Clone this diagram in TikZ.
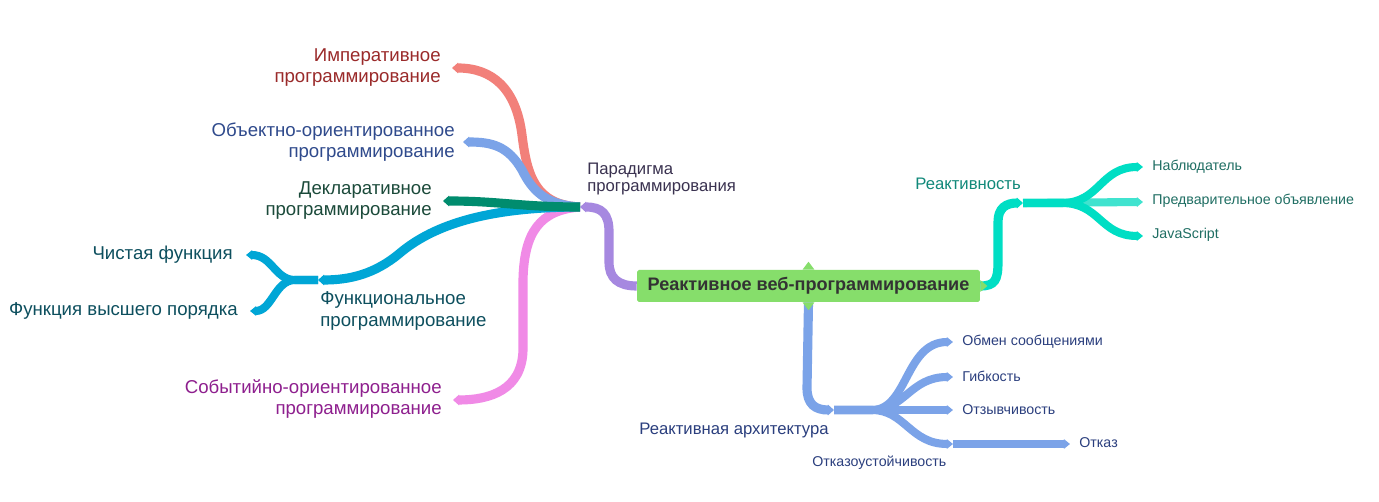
\documentclass[tikz,border=0pt]{standalone}
\usepackage{fontspec}
\setmainfont{Liberation Sans}
\usepackage{xcolor}
\usetikzlibrary{arrows.meta}

\definecolor{cImp}{HTML}{F2807A}
\definecolor{cOop}{HTML}{7BA3E8}
\definecolor{cDecl}{HTML}{008C6E}
\definecolor{cFun}{HTML}{00A6D6}
\definecolor{cEvt}{HTML}{F08AE6}
\definecolor{cPar}{HTML}{A688E0}
\definecolor{cRe}{HTML}{00DEC4}
\definecolor{cReL}{HTML}{40E3CF}
\definecolor{cArch}{HTML}{7BA3E8}
\definecolor{cRoot}{HTML}{86DE6B}
\definecolor{tImp}{HTML}{9A2A2A}
\definecolor{tOop}{HTML}{2F4A8C}
\definecolor{tDecl}{HTML}{1B4A3A}
\definecolor{tFun}{HTML}{0D4F5E}
\definecolor{tEvt}{HTML}{8E1F8E}
\definecolor{tPar}{HTML}{3A3250}
\definecolor{tRe}{HTML}{11897A}
\definecolor{tReL}{HTML}{1F6E63}
\definecolor{tArch}{HTML}{2B3F7E}

\tikzset{
    branch/.style={line width=5.2pt, -{Triangle[length=3.5pt,width=6pt]}},
    twig/.style={line width=4.6pt, -{Triangle[length=3.5pt,width=5.4pt]}},
    big/.style={font=\fontsize{10.6}{12}\selectfont, inner sep=0pt},
    mid/.style={font=\fontsize{9.5}{10.2}\selectfont, inner sep=0pt},
    small/.style={font=\fontsize{8.1}{9.5}\selectfont, inner sep=0pt},
    root/.style={fill=cRoot, rounded corners=1pt, minimum width=6.86cm, minimum height=0.64cm,
        inner sep=0pt, font=\fontsize{10.3}{11}\selectfont\bfseries, text=black!80}
}

\begin{document}
\begin{tikzpicture}[x=0.02cm, y=-0.02cm]
        \fill[white] (0,0) rectangle (1379,502);
        \useasboundingbox (0,0) rectangle (1379,502);

        \node[root] (root) at (808.5,286) {Реактивное веб-программирование};

        %=== Points ===
        \coordinate (hubP) at (580,207);
        \coordinate (hubF) at (318,280);
        \coordinate (hubR) at (1023,203);
        \coordinate (hubA) at (834,410);
        \coordinate (eImp) at (452,68);
        \coordinate (eOop) at (463,142);
        \coordinate (eDecl) at (443,201);
        \coordinate (eEvt) at (453,400);
        \coordinate (ePure) at (246,255);
        \coordinate (eHof) at (250,311);
        \coordinate (eObs) at (1143,167);
        \coordinate (eFwd) at (1143,202);
        \coordinate (eJs) at (1143,236);
        \coordinate (eMsg) at (953,342);
        \coordinate (eFlex) at (953,377);
        \coordinate (eResp) at (953,410);
        \coordinate (eFault) at (953,444);
        \coordinate (eFail) at (1070,444);

        %=== Парадигма ===
        \draw[branch, cPar] (root.west) .. controls (618,286) and (609,278) .. (609,262)
            -- (609,232) .. controls (609,214) and (602,207) .. (hubP);
        \draw[branch, cEvt] (hubP) .. controls (540,210) and (524,232) .. (523,280)
            -- (523,350) .. controls (522,390) and (490,400) .. (eEvt);
        \draw[branch, cFun] (hubP) .. controls (480,207) and (430,228) .. (400,253)
            .. controls (375,274) and (350,280) .. (hubF);
        \draw[branch, cImp] (hubP) .. controls (535,205) and (527,175) .. (522,135)
            .. controls (516,88) and (492,68) .. (eImp);
        \draw[branch, cOop] (hubP) .. controls (545,205) and (532,190) .. (522,170)
            .. controls (508,146) and (492,142) .. (eOop);
        \draw[branch, cDecl] (hubP) .. controls (520,207) and (500,201) .. (eDecl);
        \draw[twig, cFun] (hubF) -- (295,280) .. controls (275,280) and (272,255) .. (ePure);
        \draw[twig, cFun] (hubF) -- (295,280) .. controls (275,280) and (272,311) .. (eHof);

        \node[mid, text=tPar, align=left, anchor=west] (para) at (587,179) {Парадигма\\программирования};
        \node[big, text=tImp, align=right, anchor=east] (imp) at (441,67.5) {Императивное\\программирование};
        \node[big, text=tOop, align=right, anchor=east] (oop) at (455,142.5) {Объектно-ориентированное\\программирование};
        \node[big, text=tDecl, align=right, anchor=east] (decl) at (432,200.5) {Декларативное\\программирование};
        \node[big, text=tFun, align=left, anchor=west] (func) at (320,311) {Функциональное\\программирование};
        \node[big, text=tFun, anchor=east] (pure) at (233,255) {Чистая функция};
        \node[big, text=tFun, anchor=east] (hof) at (238,311) {Функция высшего порядка};
        \node[big, text=tEvt, align=right, anchor=east] (evt) at (442,399) {Событийно-ориентированное\\программирование};

        %=== Реактивность ===
        \draw[branch, cRe] (root.east) .. controls (995,286) and (998,280) .. (998,262)
            -- (998,222) .. controls (998,208) and (1006,203) .. (hubR);
        \draw[twig, cReL] (hubR) -- (eFwd);
        \draw[twig, cRe] (hubR) -- (1062,203) .. controls (1100,203) and (1100,167) .. (eObs);
        \draw[twig, cRe] (hubR) -- (1062,203) .. controls (1100,203) and (1100,236) .. (eJs);

        \node[mid, text=tRe, anchor=west] (react) at (915,184) {Реактивность};
        \node[small, text=tReL, anchor=west] (obs) at (1152,167) {Наблюдатель};
        \node[small, text=tReL, anchor=west] (fwd) at (1152,201) {Предварительное объявление};
        \node[small, text=tReL, anchor=west] (js) at (1152,235) {JavaScript};

        %=== Архитектура ===
        \draw[branch, cArch] (root.south) -- (807,388) .. controls (807,404) and (815,410) .. (hubA);
        \draw[twig, cArch] (hubA) -- (872,410) .. controls (908,410) and (905,342) .. (eMsg);
        \draw[twig, cArch] (hubA) -- (872,410) .. controls (905,410) and (910,377) .. (eFlex);
        \draw[twig, cArch] (hubA) -- (eResp);
        \draw[twig, cArch] (hubA) -- (872,410) .. controls (905,410) and (910,444) .. (eFault);
        \draw[twig, cArch] (eFault) -- (eFail);

        \node[mid, text=tArch, anchor=west] (arch) at (639,430) {Реактивная архитектура};
        \node[small, text=tArch, anchor=west] (msg) at (962,342) {Обмен сообщениями};
        \node[small, text=tArch, anchor=west] (flex) at (962,376) {Гибкость};
        \node[small, text=tArch, anchor=west] (resp) at (962,410) {Отзывчивость};
        \node[small, text=tArch, anchor=west] (fault) at (812,463) {Отказоустойчивость};
        \node[small, text=tArch, anchor=west] (fail) at (1079,443) {Отказ};

        %=== Уголки ===
        \fill[cRoot] ([xshift=-3.4pt]root.north) -- ([yshift=4.5pt]root.north) -- ([xshift=3.4pt]root.north) -- cycle;
        \fill[cRoot] ([xshift=-3.4pt]root.south) -- ([yshift=-4.5pt]root.south) -- ([xshift=3.4pt]root.south) -- cycle;
        \fill[cRoot] ([yshift=3.4pt]root.east) -- ([xshift=4pt]root.east) -- ([yshift=-3.4pt]root.east) -- cycle;
    \end{tikzpicture}
\end{document}
